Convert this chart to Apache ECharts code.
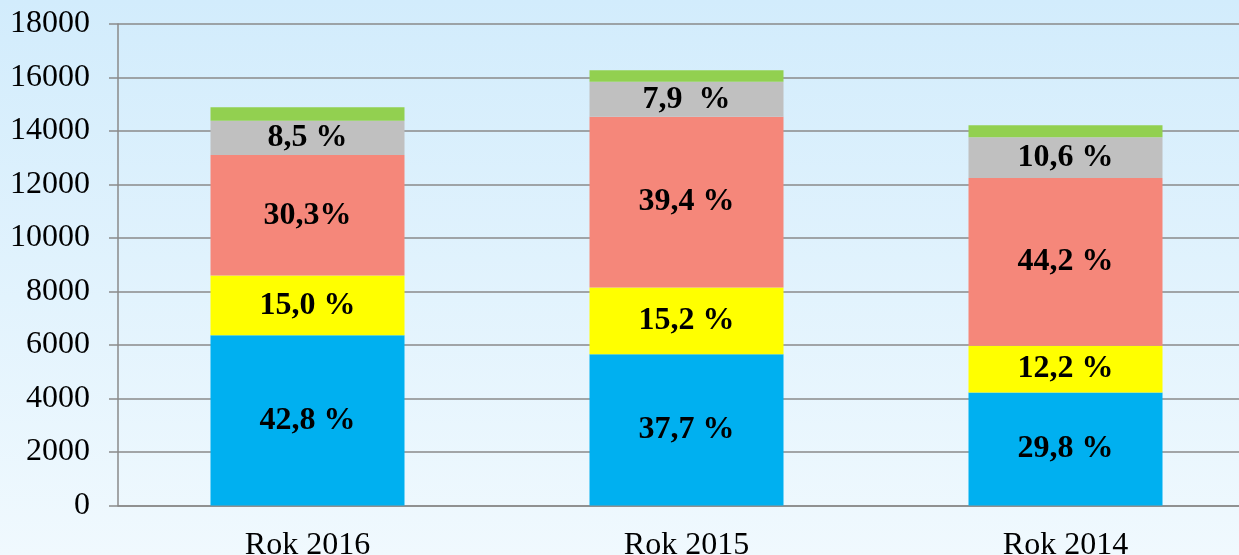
<!DOCTYPE html>
<html>
<head>
<meta charset="utf-8">
<script src="https://cdn.jsdelivr.net/npm/echarts@6/dist/echarts.min.js"></script>
<style>
html,body{margin:0;padding:0;}
#c{width:1239px;height:555px;background:linear-gradient(to bottom,#D2ECFC 0%,#F0F9FE 100%);}
</style>
</head>
<body>
<div id="c"></div>
<script>
const categories = ['Rok 2016', 'Rok 2015', 'Rok 2014'];
const blueValues   = [6369, 5658, 4226];
const yellowValues = [2232, 2494, 1743];
const salmonValues = [4499, 6381, 6271];
const grayValues   = [1283, 1308, 1522];
const greenValues  = [501, 426, 449];
const blueLabels   = ['42,8 %', '37,7 %', '29,8 %'];
const yellowLabels = ['15,0 %', '15,2 %', '12,2 %'];
const salmonLabels = ['30,3%', '39,4 %', '44,2 %'];
const grayLabels   = ['8,5 %', '7,9  %', '10,6 %'];
const yTicks = [0, 2000, 4000, 6000, 8000, 10000, 12000, 14000, 16000, 18000];

const FONT = '"Times New Roman", "Liberation Serif", serif';
function mk(name, vals, labels, color) {
  return {
    name: name, type: 'bar', stack: 'a', barWidth: 194,
    itemStyle: {color: color},
    data: vals.map((v, i) => ({
      value: v,
      label: labels ? {show: true, formatter: labels[i]} : {show: false}
    })),
    label: {position: 'inside', color: '#000', fontFamily: FONT, fontWeight: 'bold', fontSize: 32},
    silent: true
  };
}
const chart = echarts.init(document.getElementById('c'), null, {renderer: 'canvas'});
chart.setOption({
  animation: false,
  backgroundColor: 'transparent',
  grid: {left: 118, width: 1137, top: 24, bottom: 49.5, containLabel: false, outerBoundsMode: 'none'},
  xAxis: {
    type: 'category', data: categories,
    axisLine: {show: true, lineStyle: {color: '#8a8a8a', width: 1.5}},
    axisTick: {show: false},
    axisLabel: {color: '#000', fontFamily: FONT, fontSize: 32, margin: 24}
  },
  yAxis: {
    type: 'value', min: yTicks[0], max: yTicks[yTicks.length - 1], interval: 2000,
    axisLine: {show: true, lineStyle: {color: '#8a8a8a', width: 1.5}},
    axisTick: {show: true, length: 9, lineStyle: {color: '#8a8a8a', width: 1.5}},
    axisLabel: {color: '#000', fontFamily: FONT, fontSize: 32, margin: 28, formatter: v => String(v)},
    splitLine: {show: true, lineStyle: {color: '#8a8a8a', width: 1.5}}
  },
  series: [
    mk('blue', blueValues, blueLabels, '#00B0F0'),
    mk('yellow', yellowValues, yellowLabels, '#FFFF00'),
    mk('salmon', salmonValues, salmonLabels, '#F5877A'),
    mk('gray', grayValues, grayLabels, '#C0C0C0'),
    mk('green', greenValues, null, '#92D050')
  ]
});
</script>
</body>
</html>
